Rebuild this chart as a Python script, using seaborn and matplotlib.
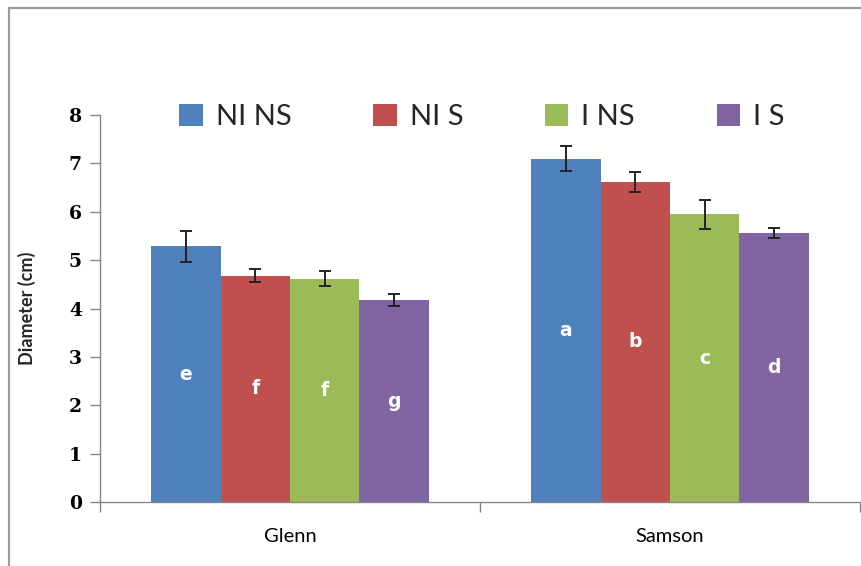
import matplotlib
matplotlib.use("Agg")
import matplotlib.pyplot as plt
import seaborn as sns
import pandas as pd
from matplotlib.lines import Line2D
from matplotlib.container import BarContainer

# Fruit diameter by cultivar and treatment
cultivars = ["Glenn", "Samson"]
treatments = ["NI NS", "NI S", "I NS", "I S"]
glenn_mean = [5.29, 4.68, 4.62, 4.17]
glenn_err = [0.32, 0.14, 0.16, 0.12]
samson_mean = [7.10, 6.62, 5.95, 5.56]
samson_err = [0.26, 0.21, 0.30, 0.11]
glenn_letters = ["e", "f", "f", "g"]
samson_letters = ["a", "b", "c", "d"]
yticks = [0, 1, 2, 3, 4, 5, 6, 7, 8]
colors = ["#4F81BD", "#C0504D", "#9BBB59", "#8064A2"]

means = {"Glenn": glenn_mean, "Samson": samson_mean}
errs = {"Glenn": glenn_err, "Samson": samson_err}
letters = {"Glenn": glenn_letters, "Samson": samson_letters}

rows = []
for c in cultivars:
    for t, m in zip(treatments, means[c]):
        rows.append({"cultivar": c, "treatment": t, "diameter": m})
df = pd.DataFrame(rows)

sns.set_theme(style="white")
plt.rcParams["font.family"] = ["Lato", "DejaVu Sans"]

W, H = 861, 566
fig = plt.figure(figsize=(W / 100, H / 100), dpi=100)
ax = fig.add_axes([100 / W, 1 - 502 / H, 760 / W, 387 / H])

sns.barplot(data=df, x="cultivar", y="diameter", hue="treatment",
            order=cultivars, hue_order=treatments, palette=colors,
            width=0.73, errorbar=None, saturation=1, linewidth=0, ax=ax)

# Error bars and significance letters placed on each bar
bar_groups = [c for c in ax.containers if isinstance(c, BarContainer)]
for i, cont in enumerate(bar_groups):
    for j, bar in enumerate(cont.patches):
        c = cultivars[j]
        xc = bar.get_x() + bar.get_width() / 2
        h = bar.get_height()
        ax.errorbar(xc, h, yerr=errs[c][i], fmt="none", ecolor="#222222",
                    elinewidth=1.4, capsize=4.5, capthick=1.4, zorder=5)
        ax.text(xc, h / 2, letters[c][i], ha="center", va="center",
                color="white", fontsize=13.5, fontweight="bold",
                family="DejaVu Sans", zorder=6)

handles, labels = ax.get_legend_handles_labels()
ax.legend(handles, labels, loc="center", ncol=4, frameon=False,
          bbox_to_anchor=(482 / W, 1 - 117 / H), bbox_transform=fig.transFigure,
          fontsize=21, handlelength=0.8, handleheight=0.8, handletextpad=0.45,
          columnspacing=2.8)

ax.set_ylim(0, 8)
ax.set_xlim(-0.5, 1.5)
ax.set_yticks(yticks)
ax.set_yticklabels([str(v) for v in yticks], family="DejaVu Serif",
                   fontweight="bold", fontsize=13.5)
ax.set_xticks([0, 1])
ax.set_xticklabels(cultivars, fontsize=14.5)
ax.set_xticks([-0.5, 0.5, 1.5], minor=True)
ax.tick_params(axis="x", which="major", length=0, pad=19, colors="black")
ax.tick_params(axis="x", which="minor", length=7, width=1, color="#868686",
               direction="out", bottom=True)
ax.tick_params(axis="y", length=7, width=1, color="#868686", direction="out",
               left=True, pad=6, labelcolor="black")
ax.set_xlabel("")
ax.set_ylabel("Diameter (cm)", fontsize=13, fontweight="bold")
ax.yaxis.set_label_coords((36 - 100) / 760, 0.5)

for s in ["top", "right"]:
    ax.spines[s].set_visible(False)
for s in ["left", "bottom"]:
    ax.spines[s].set_color("#868686")
    ax.spines[s].set_linewidth(1.0)

# Chart-area border
fig.add_artist(Line2D([9 / W, 9 / W], [0, 1 - 8 / H], transform=fig.transFigure,
                      color="#9a9a9a", linewidth=1.6))
fig.add_artist(Line2D([9 / W, 1], [1 - 8 / H, 1 - 8 / H], transform=fig.transFigure,
                      color="#9a9a9a", linewidth=1.6))

fig.savefig("out.png", dpi=100, facecolor="white")
